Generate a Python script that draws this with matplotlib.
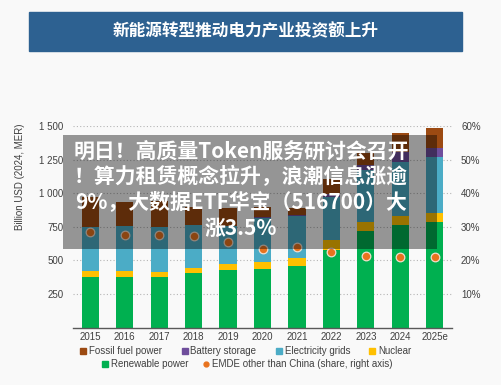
import matplotlib
matplotlib.use("Agg")
import matplotlib.pyplot as plt
from matplotlib.patches import Rectangle
from matplotlib.lines import Line2D
import numpy as np

plt.rcParams['font.family'] = ['Liberation Sans', 'Noto Sans CJK SC', 'DejaVu Sans']

# ---------------- data ----------------
years = ["2015", "2016", "2017", "2018", "2019", "2020", "2021", "2022", "2023", "2024", "2025e"]
renewable = [374, 374, 376, 403, 428, 435, 460, 577, 720, 763, 782]
nuclear = [46, 46, 39, 37, 44, 50, 55, 74, 68, 67, 68]
grids = [330, 335, 335, 320, 280, 330, 315, 320, 384, 400, 422]
battery = [1, 1, 1, 3, 4, 5, 7, 23, 37, 75, 62]
fossil = [218, 181, 193, 137, 134, 80, 53, 111, 88, 141, 153]
emde_share = [28.5, 27.5, 27.6, 27.2, 25.4, 23.5, 24.1, 22.6, 21.3, 21.1, 20.9]

left_ticks = [250, 500, 750, 1000, 1250, 1500]
left_labels = ["250", "500", "750", "1 000", "1 250", "1 500"]
right_ticks = [10, 20, 30, 40, 50, 60]
right_labels = ["10%", "20%", "30%", "40%", "50%", "60%"]

title = "新能源转型推动电力产业投资额上升"
ylabel = "Billion USD (2024, MER)"
overlay_lines = ["明日！高质量Token服务研讨会召开",
                 "！算力租赁概念拉升，浪潮信息涨逾",
                 "9%，大数据ETF华宝（516700）大",
                 "涨3.5%"]

# ---------------- figure ----------------
W, H = 502, 385
fig = plt.figure(figsize=(W / 100, H / 100), dpi=100)
fig.patch.set_facecolor("#f9f9f9")

def fx(px):
    return px / W

def fy(py):
    return 1 - py / H

TXT = "#404040"

ax = fig.add_axes([fx(73), fy(327.5), fx(452) - fx(73), fy(126) - fy(327.5)])
ax.set_facecolor("none")
x = np.arange(len(years))
bottom = np.zeros(len(years))
series = [(renewable, "#00b050", "Renewable power"),
          (nuclear, "#ffc000", "Nuclear"),
          (grids, "#4bacc6", "Electricity grids"),
          (battery, "#6f4e9c", "Battery storage"),
          (fossil, "#9c4a12", "Fossil fuel power")]
colors = {}
for vals, c, lab in series:
    ax.bar(x, vals, 0.5, bottom=bottom, color=c, zorder=2, linewidth=0)
    bottom += np.array(vals)
    colors[lab] = c

ax.set_xlim(-0.5, len(years) - 0.5)
ax.set_ylim(0, 1500)
ax.set_yticks(left_ticks, left_labels)
ax.set_xticks(x, years)
ax.tick_params(length=0, labelsize=7, labelcolor=TXT)
ax.tick_params(axis='y', pad=7)
ax.tick_params(axis='x', pad=3)
for s in ["left", "right", "top"]:
    ax.spines[s].set_visible(False)
ax.spines["bottom"].set_color("#595959")
ax.spines["bottom"].set_linewidth(1.0)
ax.grid(axis='y', linestyle=(0, (1, 2)), color="#b5b5b5", lw=0.8, zorder=0)
ax.set_axisbelow(True)

ax2 = ax.twinx()
ax2.set_ylim(0, 60)
ax2.plot(x, emde_share, marker='o', ls='none', ms=6.2, mfc="#e8731e",
         mec="#f3dccb", mew=0.9, zorder=3)
ax2.set_yticks(right_ticks, right_labels)
ax2.tick_params(length=0, labelsize=7, labelcolor=TXT, pad=6.5)
for s in ["left", "right", "top", "bottom"]:
    ax2.spines[s].set_visible(False)

fig.text(fx(20), fy(177), ylabel, rotation=90, ha='center', va='center',
         fontsize=7, color=TXT)

# legends
row1 = [Line2D([], [], marker='s', ls='none', color=colors[l], ms=4.5, label=l)
        for l in ["Fossil fuel power", "Battery storage", "Electricity grids", "Nuclear"]]
row2 = [Line2D([], [], marker='s', ls='none', color=colors["Renewable power"], ms=4.5,
               label="Renewable power"),
        Line2D([], [], marker='o', ls='none', color="#e8731e", ms=3.5,
               label="EMDE other than China (share, right axis)")]
common = dict(frameon=False, fontsize=7, handlelength=0.6, handletextpad=0.3,
              borderaxespad=0, borderpad=0, labelcolor=TXT, loc='center')
fig.legend(handles=row1, bbox_to_anchor=(fx(246), fy(351)), ncol=4,
           columnspacing=2.0, **common)
fig.legend(handles=row2, bbox_to_anchor=(fx(247), fy(364)), ncol=2,
           columnspacing=1.5, **common)

# title banner
fig.add_artist(Rectangle((fx(29), fy(51)), fx(462) - fx(29), fy(12) - fy(51),
                         transform=fig.transFigure, color="#2d6191", zorder=5))
fig.text(fx(246), fy(31.5), title, ha='center', va='center', fontsize=12,
         fontweight='bold', color='white', family=['Noto Sans CJK SC', 'DejaVu Sans'],
         zorder=6)

# overlay box
fig.add_artist(Rectangle((fx(63), fy(249)), fx(437) - fx(63), fy(135) - fy(249),
                         transform=fig.transFigure, color="black", alpha=0.4,
                         zorder=10, linewidth=0))
for i, line in enumerate(overlay_lines):
    fig.text(fx(241), fy(151 + 25.7 * i), line, ha='center', va='center',
             fontsize=15, fontweight='bold', color='white',
             family=['Noto Sans CJK SC', 'DejaVu Sans'], zorder=11)

fig.savefig("out.png", dpi=100, facecolor=fig.get_facecolor())
